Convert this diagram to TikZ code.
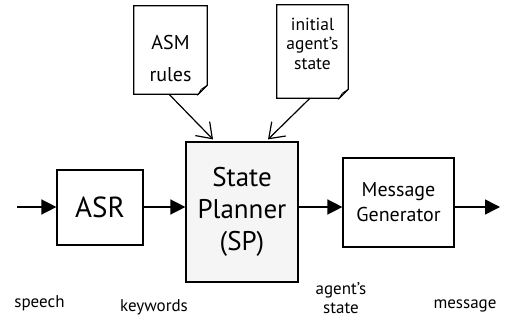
\documentclass[tikz,border=0pt]{standalone}
\usepackage{fontspec}
\setmainfont{PT Sans}
\usetikzlibrary{arrows.meta}

\begin{document}
\begin{tikzpicture}[%
      x=1pt, y=-1pt,
      box/.style={draw, line width=1.2pt, align=center, inner sep=0pt},
      doc/.style={inner sep=0pt},
      flow/.style={line width=1.5pt, -{Triangle[length=15pt,width=15pt]}},
      feed/.style={line width=1.2pt, -{Straight Barb[length=14pt,width=20pt]}},
      lbl/.style={font=\fontsize{17}{19}\selectfont, align=center},
      ]
      \useasboundingbox (0,0) rectangle (505,320);

      \node [doc, minimum width=73pt, minimum height=88pt] (asm) at (170.5,50) {};
      \node [doc, minimum width=71pt, minimum height=93pt] (init) at (312.5,51.5) {};
      \foreach \d in {asm,init} {
        \draw [line width=1.2pt] (\d.north west) -- (\d.north east) -- ([yshift=9pt]\d.south east)
              -- ([xshift=-9pt]\d.south east) -- (\d.south west) -- cycle;
        \filldraw [line width=0.6pt, fill=gray!45] ([yshift=9pt]\d.south east)
              -- ([xshift=-9pt]\d.south east) -- ([xshift=-6pt,yshift=5pt]\d.south east) -- cycle;
      }
      \node [align=center, font=\fontsize{20}{32}\selectfont] (asmtext) at ([yshift=-9pt]asm.center) {ASM\\rules};
      \node [align=center, font=\fontsize{17.5}{19.5}\selectfont] (inittext) at ([yshift=8pt]init.center) {initial\\agent's\\state};

      \node [box, minimum width=86pt, minimum height=75pt, font=\fontsize{29}{34}\selectfont] (asr) at (100,207.5) {ASR};
      \node [box, fill=gray!8, minimum width=112pt, minimum height=140pt, font=\fontsize{27}{32}\selectfont] (sp) at (242,212) {State\\Planner\\(SP)};
      \node [box, minimum width=111pt, minimum height=89pt, font=\fontsize{20}{25}\selectfont] (mg) at (398.5,202.5) {Message\\Generator};

      \coordinate (in) at (17,207);
      \coordinate (out) at (500,207);

      \draw [flow] (in) -- (asr.west |- in);
      \draw [flow] (asr.east |- in) -- (sp.west |- in);
      \draw [flow] (sp.east |- in) -- (mg.west |- in);
      \draw [flow] (mg.east |- in) -- (out);

      \draw [feed] ([xshift=-1.5pt]asm.south) -- ([xshift=-29pt,yshift=2pt]sp.north);
      \draw [feed] ([xshift=-2.5pt]init.south) -- ([xshift=26pt,yshift=2pt]sp.north);

      \node [lbl, anchor=base] (speech) at (39.5,307) {speech};
      \node [lbl, anchor=base] (keywords) at (154,311) {keywords};
      \node [lbl] (agstate) at (341,298.5) {agent's\\state};
      \node [lbl, anchor=base] (message) at (465,308) {message};
\end{tikzpicture}
\end{document}
